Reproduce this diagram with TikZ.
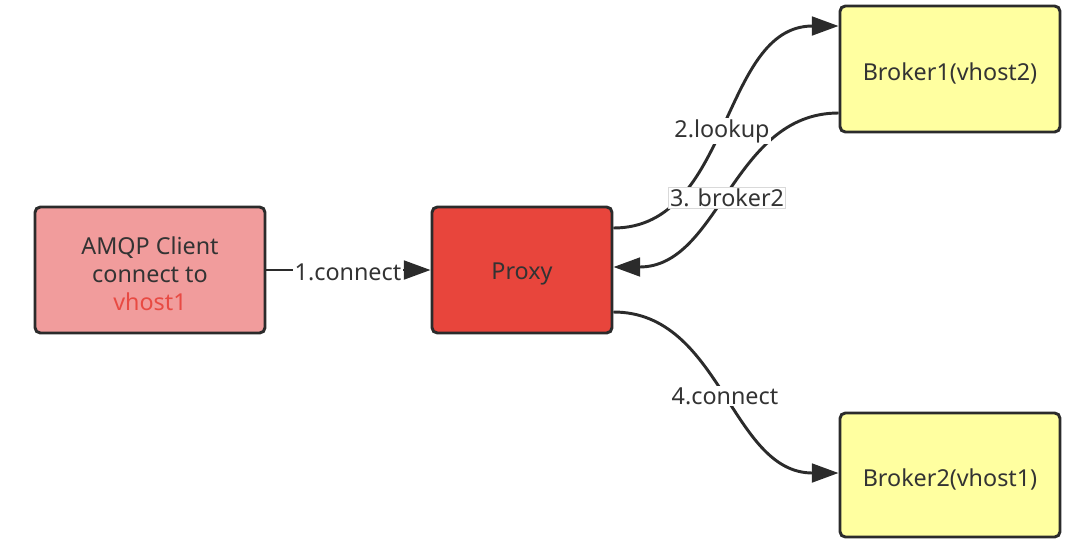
\documentclass[tikz,border=0pt]{standalone}
\usepackage{fontspec}
\setmainfont{Noto Sans}
\usetikzlibrary{arrows.meta,calc}
\definecolor{txt}{HTML}{333333}
\definecolor{edge}{HTML}{2B2B2B}
\definecolor{clientfill}{HTML}{F19C9C}
\definecolor{proxyfill}{HTML}{E8453C}
\definecolor{brokerfill}{HTML}{FFFFA0}
\definecolor{hostred}{HTML}{E84A43}
\newcommand\lowtxt[1]{\raisebox{-3pt}[\height][\depth]{#1}}
\tikzset{
  box/.style={draw=edge, line width=2.2pt, rounded corners=4pt, text=txt,
    font=\fontsize{17.5pt}{21pt}\selectfont, align=center, inner sep=0pt},
  conn/.style={draw=edge, line width=2.2pt, -{Triangle[length=20pt,width=14pt]}},
  lbl/.style={fill=white, text=txt, font=\fontsize{17.5pt}{20pt}\selectfont, inner sep=1pt},
}
\begin{document}
\begin{tikzpicture}[x=0.75pt,y=-0.75pt]
\useasboundingbox (0,0) rectangle (1080,547);
\node[box, fill=clientfill, minimum width=172.5pt, minimum height=94.5pt] (client) at (150,270)
  {\lowtxt{\parbox{160pt}{\centering AMQP Client\\connect to\\\textcolor{hostred}{vhost1}}}};
\node[box, fill=proxyfill, minimum width=135pt, minimum height=94.5pt] (proxy) at (522,270) {\lowtxt{Proxy}};
\node[box, fill=brokerfill, minimum width=165pt, minimum height=94.5pt] (b1) at (950,69) {\lowtxt{Broker1(vhost2)}};
\node[box, fill=brokerfill, minimum width=165pt, minimum height=93pt] (b2) at (950,475) {\lowtxt{Broker2(vhost1)}};

\path[conn] (client.east) -- (proxy.west);
\node[lbl] (l1) at (348,272) {1.connect};

\path[conn] ($(proxy.east)+(0,-42)$) to[out=0,in=180] ($(b1.west)+(0,-43)$);
\path[conn] ($(b1.west)+(0,44)$) to[out=180,in=0] ($(proxy.east)+(0,-3)$);
\path[conn] ($(proxy.east)+(0,42)$) to[out=0,in=180] ($(b2.west)+(0,-2)$);

\node[lbl] (l2) at (722,131) {2.lookup};
\node[lbl, draw=black!15, line width=0.5pt] (l3) at (727,198) {3. broker2};
\node[lbl] (l4) at (725,396) {4.connect};
\end{tikzpicture}
\end{document}
